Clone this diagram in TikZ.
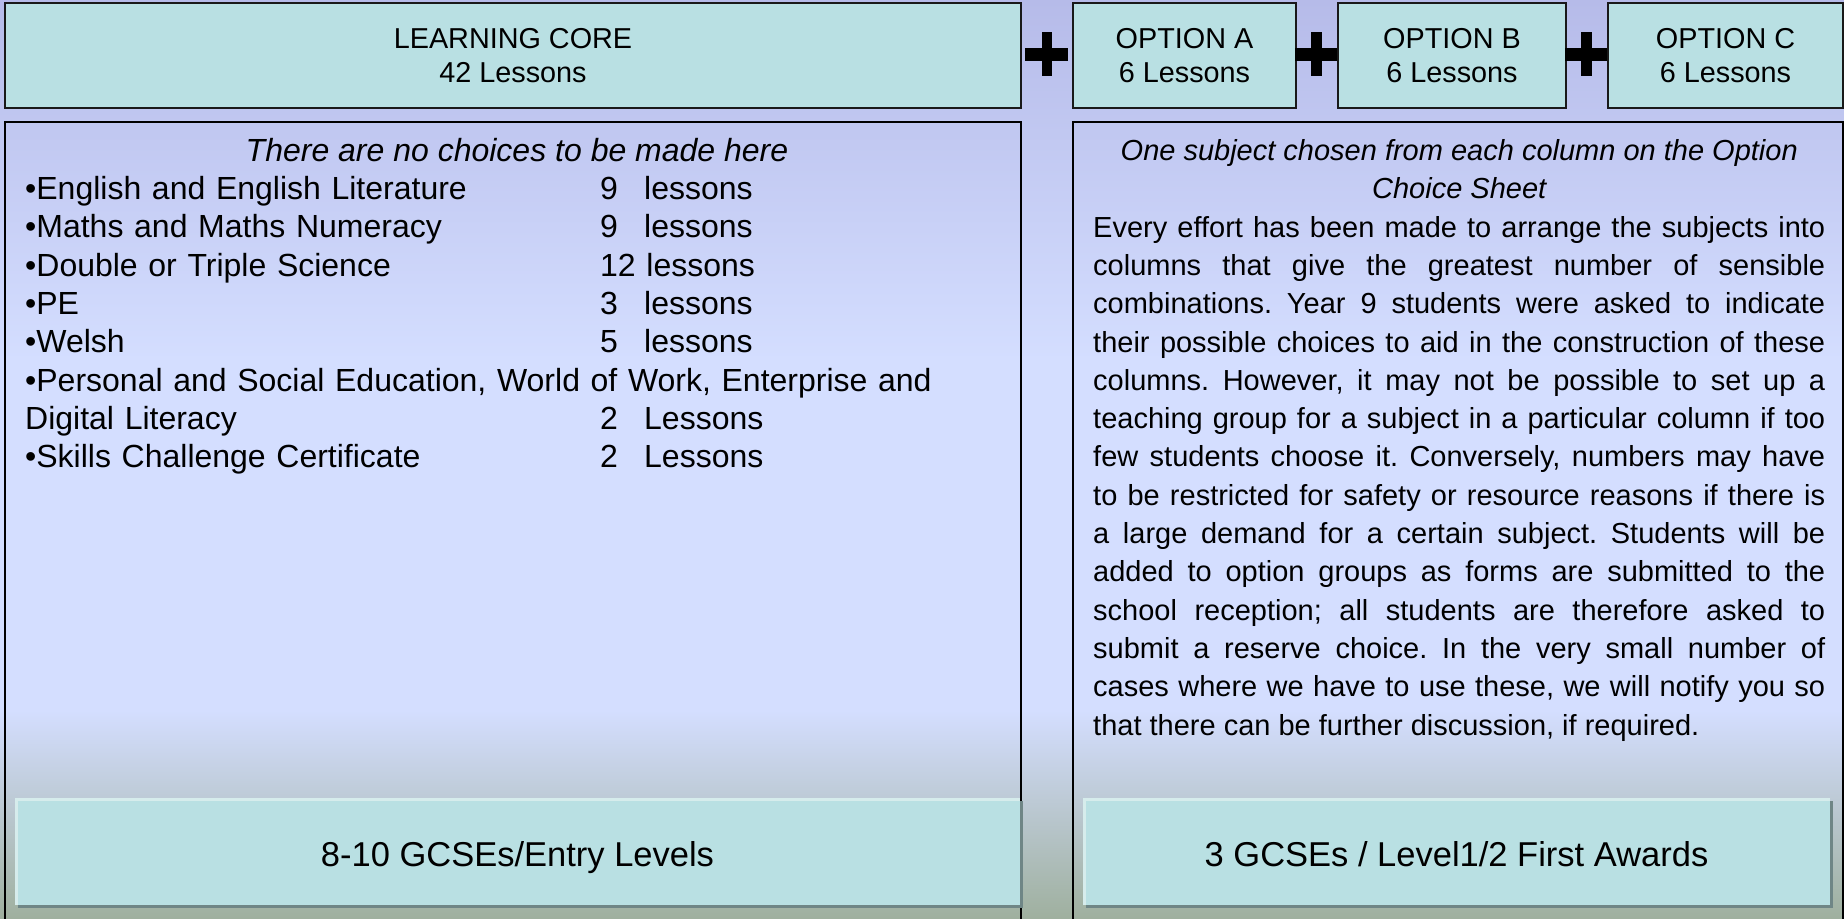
\documentclass[tikz,border=0pt]{standalone}
\usepackage{fontspec}
\setmainfont{Liberation Sans}
\usetikzlibrary{shadows}
\definecolor{bgTop}{HTML}{B6BBE9}
\definecolor{bgMid}{HTML}{D4DEFF}
\definecolor{bgBot}{HTML}{9FB09F}
\definecolor{boxFill}{HTML}{B9E0E3}
\definecolor{boxShadow}{HTML}{6F8686}
\definecolor{boxLight}{HTML}{D6ECEC}
\frenchspacing
\newcommand\corerow[3]{\makebox[575pt][l]{#1}\makebox[44pt][l]{#2}#3}
\tikzset{
  hdr/.style={draw=black!90, line width=2pt, fill=boxFill, anchor=north west,
    inner sep=0pt, align=center, minimum height=105pt,
    font=\fontsize{28.8}{34.6}\selectfont},
  panel/.style={draw=black, line width=2pt, anchor=north west, inner sep=0pt,
    minimum height=820pt},
  result/.style={fill=boxFill, anchor=north west, inner sep=0pt,
    minimum height=107pt,
    drop shadow={shadow xshift=3pt, shadow yshift=-3pt, opacity=1, fill=boxShadow}},
  resulttext/.style={anchor=base, inner sep=0pt, font=\fontsize{34.5}{41}\selectfont},
  plusbar/.style={fill=black},
}
\begin{document}
\begin{tikzpicture}[x=1pt,y=-1pt]
\useasboundingbox (0,0) rectangle (1844,918);
\clip (0,0) rectangle (1844,918);
% background
\shade[top color=bgTop, bottom color=bgMid] (0,0) rectangle (1844,361);
\fill[bgMid] (0,360) rectangle (1844,711);
\shade[top color=bgMid, bottom color=bgBot] (0,710) rectangle (1844,918);

% header boxes
\node[hdr, minimum width=1016pt] (core) at (4,2) {LEARNING CORE\\42 Lessons};
\node[hdr, minimum width=223pt] (optA) at (1072,2) {OPTION A\\6 Lessons};
\node[hdr, minimum width=228pt] (optB) at (1337,2) {OPTION B\\6 Lessons};
\node[hdr, minimum width=235pt] (optC) at (1607,2) {OPTION C\\6 Lessons};

% plus signs
\fill[plusbar] (1025,48) rectangle (1068,61);
\fill[plusbar] (1042,32) rectangle (1052,76);
\fill[plusbar] (1295,48) rectangle (1337,61);
\fill[plusbar] (1311,32) rectangle (1322,76);
\fill[plusbar] (1565,48) rectangle (1607,61);
\fill[plusbar] (1581,32) rectangle (1592,76);

% panels
\node[panel, minimum width=1016pt] (leftpanel) at (4,121) {};
\node[panel, minimum width=770pt] (rightpanel) at (1072,121) {};

% left panel text
\node[anchor=base, inner sep=0pt, font=\fontsize{32}{38.3}\selectfont\itshape] (corehead)
  at (517,161) {There are no choices to be made here};
\node[anchor=base west, inner sep=0pt, text width=1000pt, align=left,
  font=\fontsize{32}{38.3}\selectfont] (corelist) at (25,199.5) {%
\corerow{•English and English Literature}{9}{lessons}\\
\corerow{•Maths and Maths Numeracy}{9}{lessons}\\
\makebox[575pt][l]{•Double or Triple Science}12 lessons\\
\corerow{•PE}{3}{lessons}\\
\corerow{•Welsh}{5}{lessons}\\
•Personal and Social Education, World of Work, Enterprise and\\
\corerow{Digital Literacy}{2}{Lessons}\\
\corerow{•Skills Challenge Certificate}{2}{Lessons}};

% right panel text
\node[anchor=base west, inner sep=0pt, text width=732pt, align=justify,
  font=\fontsize{29}{38.3}\selectfont] (opttext) at (1093,160.5) {%
\pretolerance=10000 \tolerance=10000 \hyphenpenalty=10000 \emergencystretch=0pt
{\centering\itshape One subject chosen from each column on the Option\\ Choice Sheet\par}
Every effort has been made to arrange the subjects into\linebreak
columns that give the greatest number of sensible\linebreak
combinations. Year 9 students were asked to indicate\linebreak
their possible choices to aid in the construction of these\linebreak
columns. However, it may not be possible to set up a\linebreak
teaching group for a subject in a particular column if too\linebreak
few students choose it. Conversely, numbers may have\linebreak
to be restricted for safety or resource reasons if there is\linebreak
a large demand for a certain subject. Students will be\linebreak
added to option groups as forms are submitted to the\linebreak
school reception; all students are therefore asked to\linebreak
submit a reserve choice. In the very small number of\linebreak
cases where we have to use these, we will notify you so\linebreak
that there can be further discussion, if required.};

% result boxes
\node[result, minimum width=1005pt] (resL) at (15,798) {};
\draw[boxLight, line width=3pt] ([xshift=1.5pt]resL.south west) |- ([yshift=-1.5pt]resL.north east);
\node[resulttext] (resLtext) at (517.5,866) {8-10 GCSEs/Entry Levels};

\node[result, minimum width=747pt] (resR) at (1083,798) {};
\draw[boxLight, line width=3pt] ([xshift=1.5pt]resR.south west) |- ([yshift=-1.5pt]resR.north east);
\node[resulttext] (resRtext) at (1456.5,866) {3 GCSEs / Level1/2 First Awards};
\end{tikzpicture}
\end{document}
